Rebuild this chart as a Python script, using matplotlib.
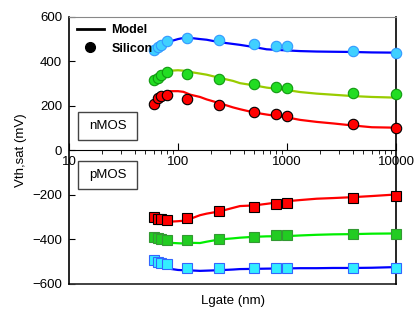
import matplotlib.pyplot as plt
from matplotlib.lines import Line2D
from matplotlib.patches import Rectangle

plt.rcParams['font.family'] = ['Liberation Sans', 'DejaVu Sans']

# measured gate lengths (nm)
lg = [60, 65, 70, 80, 120, 240, 500, 800, 1000, 4000, 10000]

# nMOS silicon
n_hi = [451, 464, 472, 490, 503, 496, 479, 469, 469, 445, 439]
n_mid = [315, 325, 338, 354, 343, 322, 300, 283, 280, 259, 255]
n_lo = [210, 235, 244, 250, 231, 202, 172, 162, 153, 118, 100]

# pMOS silicon
p_hi = [-300, -307, -310, -314, -304, -274, -256, -240, -235, -213, -207]
p_mid = [-388, -394, -400, -401, -404, -397, -388, -382, -382, -376, -377]
p_lo = [-491, -500, -505, -512, -527, -530, -527, -527, -527, -527, -527]

# model curves
lm = [57, 68, 85, 100, 112, 130, 159, 183, 240, 320, 370, 500, 650, 1000, 1320, 1870, 2660, 4000, 6000, 10000]
mn_hi = [454, 472, 490, 500, 505, 505, 500, 497, 486, 478, 474, 464, 454, 449, 446, 444, 443, 442, 440, 439]
mn_mid = [318, 340, 358, 360, 358, 352, 345, 340, 326, 312, 302, 292, 282, 271, 262, 255, 250, 244, 240, 237]
mn_lo = [215, 245, 266, 266, 263, 250, 240, 229, 212, 193, 185, 170, 161, 148, 137, 128, 121, 112, 104, 102]
mp_hi = [-303, -313, -320, -318, -316, -307, -291, -284, -274, -258, -250, -247, -240, -228, -223, -217, -214, -210, -205, -198]
mp_mid = [-385, -408, -415, -417, -418, -415, -416, -410, -400, -395, -392, -388, -386, -385, -382, -379, -377, -376, -374, -373]
mp_lo = [-505, -520, -532, -537, -538, -539, -541, -540, -538, -535, -533, -532, -531, -530, -529, -529, -528, -528, -527, -524]

fig = plt.figure(figsize=(4.16, 3.2), dpi=100)
ax = fig.add_axes([0.166, 0.1125, 0.786, 0.835])

ax.plot(lm, mn_hi, color='#0000ff', lw=1.6)
ax.plot(lm, mn_mid, color='#99cc00', lw=1.6)
ax.plot(lm, mn_lo, color='#ff0000', lw=1.6)
ax.plot(lm, mp_hi, color='#ff0000', lw=1.6)
ax.plot(lm, mp_mid, color='#00ee00', lw=1.6)
ax.plot(lm, mp_lo, color='#0000ff', lw=1.6)

ms = 7.5
ax.plot(lg, n_hi, 'o', ms=ms, mfc='#40d0ff', mec='#3399ff', mew=0.8, clip_on=False, zorder=5)
ax.plot(lg, n_mid, 'o', ms=ms, mfc='#22dd22', mec='#119911', mew=0.8, clip_on=False, zorder=5)
ax.plot(lg, n_lo, 'o', ms=ms, mfc='#ff0000', mec='#000000', mew=0.8, clip_on=False, zorder=5)
ax.plot(lg, p_hi, 's', ms=7, mfc='#ff0000', mec='#000000', mew=0.8, clip_on=False, zorder=5)
ax.plot(lg, p_mid, 's', ms=7, mfc='#22cc22', mec='#339933', mew=0.8, clip_on=False, zorder=5)
ax.plot(lg, p_lo, 's', ms=7, mfc='#33eeff', mec='#3366ff', mew=0.8, clip_on=False, zorder=5)

ax.set_xscale('log')
ax.set_xlim(10, 10000)
ax.set_ylim(-600, 600)
ax.set_yticks([-600, -400, -200, 0, 200, 400, 600])
ax.set_xticks([10, 100, 1000, 10000])
ax.set_xticklabels(['10', '100', '1000', '10000'])

ax.spines['bottom'].set_position(('data', 0))
ax.spines['bottom'].set_color('black')
ax.spines['top'].set_color('#888888')
ax.spines['left'].set_linewidth(1.2)
ax.spines['right'].set_linewidth(1.2)
ax.axhline(-600, color='#333333', lw=1.3, clip_on=False)

ax.tick_params(axis='both', labelsize=9.5, colors='black', direction='in')
ax.tick_params(axis='x', which='major', length=5, pad=4)
ax.tick_params(axis='x', which='minor', length=3)
ax.tick_params(axis='y', length=4, pad=5)

ax.set_ylabel('Vth,sat (mV)', fontsize=9.5, labelpad=4)
ax.text(0.5, -0.065, 'Lgate (nm)', transform=ax.transAxes, ha='center', va='center', fontsize=9.5)

for y0, label in [(0.539, 'nMOS'), (0.356, 'pMOS')]:
    ax.add_patch(Rectangle((0.0275, y0), 0.18, 0.105, transform=ax.transAxes,
                           fill=True, facecolor='white', edgecolor='#444444', lw=1, zorder=6))
    ax.text(0.1175, y0 + 0.0525, label, transform=ax.transAxes, ha='center', va='center',
            fontsize=9.5, zorder=7)

handles = [Line2D([], [], color='black', lw=2),
           Line2D([], [], color='black', marker='o', ls='none', ms=7)]
leg = ax.legend(handles, ['Model', 'Silicon'], loc='upper left', frameon=False,
                fontsize=9, handlelength=2.2, handletextpad=0.6, borderaxespad=0.2,
                labelspacing=0.5)
for t in leg.get_texts():
    t.set_fontweight('bold')

fig.savefig('out.png', dpi=100)
